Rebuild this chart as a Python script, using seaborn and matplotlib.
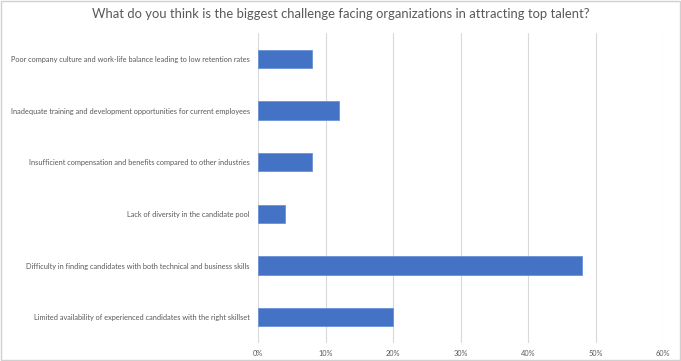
import matplotlib as mpl
import matplotlib.pyplot as plt
import pandas as pd
import seaborn as sns
from matplotlib.patches import Rectangle
from matplotlib.ticker import PercentFormatter

categories = [
    "Poor company culture and work-life balance leading to low retention rates",
    "Inadequate training and development opportunities for current employees",
    "Insufficient compensation and benefits compared to other industries",
    "Lack of diversity in the candidate pool",
    "Difficulty in finding candidates with both technical and business skills",
    "Limited availability of experienced candidates with the right skillset",
]
shares = [0.08, 0.12, 0.08, 0.04, 0.48, 0.20]
title = "What do you think is the biggest challenge facing organizations in attracting top talent?"

sns.set_theme(style="white")
mpl.rcParams["font.family"] = ["Lato", "DejaVu Sans"]

df = pd.DataFrame({"challenge": categories, "share": shares})

fig = plt.figure(figsize=(6.81, 3.61), dpi=100)
ax = fig.add_axes([258 / 681, 1 - 343 / 361, (663 - 258) / 681, 310 / 361])

sns.barplot(
    data=df, x="share", y="challenge", orient="h", ax=ax,
    color="#4472C4", saturation=1, width=0.36,
    edgecolor="#6A92D8", linewidth=0.6,
)

ax.set_xlim(0, 0.6)
ax.set_xticks([0, 0.1, 0.2, 0.3, 0.4, 0.5, 0.6])
ax.xaxis.set_major_formatter(PercentFormatter(1.0, decimals=0))
ax.grid(axis="x", color="#d9d9d9", linewidth=0.8)
ax.set_axisbelow(True)
for s in ax.spines.values():
    s.set_visible(False)
ax.set_xlabel("")
ax.set_ylabel("")
ax.tick_params(axis="x", labelsize=5.3, colors="#595959", length=0, pad=5)
ax.tick_params(axis="y", labelsize=5.35, colors="#595959", length=0, pad=6)

fig.text(0.5, 1 - 14 / 361, title, ha="center", va="center", fontsize=9.4, color="#595959")
fig.patches.append(Rectangle((0.001, 0.002), 0.997, 0.995, transform=fig.transFigure,
                             fill=False, edgecolor="#d0d0d0", linewidth=1))

fig.savefig("out.png", dpi=100)
